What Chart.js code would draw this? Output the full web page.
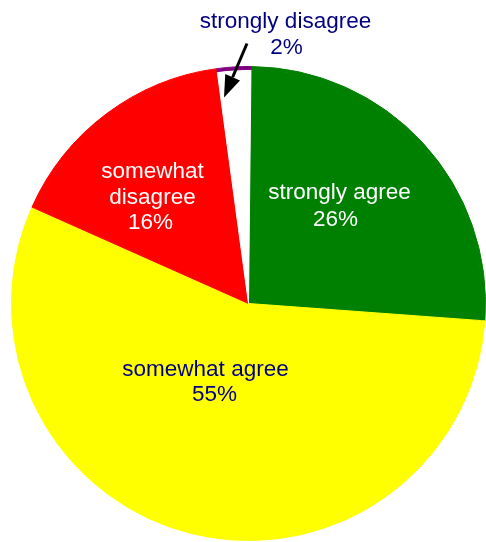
<!DOCTYPE html>
<html>
<head>
<meta charset="utf-8">
<script src="https://cdn.jsdelivr.net/npm/chart.js@4/dist/chart.umd.min.js"></script>
<style>
  html, body { margin: 0; padding: 0; background: #fff; overflow: hidden; }
  #wrap { position: absolute; left: 0; top: 0; width: 486px; height: 542px; }
</style>
</head>
<body>
<div id="wrap"><canvas id="myChart"></canvas></div>
<script>
// answers, clockwise from 12 o'clock
const categories = ["strongly agree", "somewhat agree", "somewhat disagree", "strongly disagree"];
const shares = [26.0, 55.5, 16.2, 2.3];
const shareLabels = ["26%", "55%", "16%", "2%"];
const sliceColors = ["#008000", "#ffff00", "#ff0000", "#ffffff"];
const rimColors = ["#008000", "#ffff00", "#ff0000", "#800080"];

// label text, one line per entry; x/y are offsets from the pie centre (baseline)
const labelLines = [
  { text: "strongly agree", dx: 91, dy: -105, color: "#ffffff" },
  { text: shareLabels[0], dx: 87, dy: -78, color: "#ffffff" },
  { text: "somewhat", dx: -96, dy: -126, color: "#ffffff" },
  { text: "disagree", dx: -96, dy: -100, color: "#ffffff" },
  { text: shareLabels[2], dx: -98, dy: -75, color: "#ffffff" },
  { text: "somewhat agree", dx: -43, dy: 72, color: "#000080" },
  { text: shareLabels[1], dx: -34, dy: 97, color: "#000080" },
  { text: categories[3], dx: 37, dy: -276, color: "#000080" },
  { text: shareLabels[3], dx: 38, dy: -250, color: "#000080" },
];

const labelPlugin = {
  id: "sliceLabels",
  afterDraw(chart) {
    const ctx = chart.ctx;
    const area = chart.chartArea;
    const cx = (area.left + area.right) / 2;
    const cy = (area.top + area.bottom) / 2;
    ctx.save();
    ctx.font = "22.5px 'Liberation Sans', Arial, sans-serif";
    ctx.textAlign = "center";
    ctx.textBaseline = "alphabetic";
    labelLines.forEach((l) => {
      ctx.fillStyle = l.color;
      ctx.fillText(l.text, cx + l.dx, cy + l.dy);
    });

    // arrow pointing at the small white slice
    const x0 = cx - 1.5, y0 = cy - 260;
    const x1 = cx - 24.5, y1 = cy - 206;
    const ang = Math.atan2(y1 - y0, x1 - x0);
    const headLen = 22, headHalf = 8;
    const bx = x1 - headLen * Math.cos(ang);
    const by = y1 - headLen * Math.sin(ang);
    ctx.strokeStyle = "#000";
    ctx.lineWidth = 3;
    ctx.beginPath();
    ctx.moveTo(x0, y0);
    ctx.lineTo(bx, by);
    ctx.stroke();
    ctx.fillStyle = "#000";
    ctx.beginPath();
    ctx.moveTo(x1, y1);
    ctx.lineTo(bx + headHalf * Math.sin(ang), by - headHalf * Math.cos(ang));
    ctx.lineTo(bx - headHalf * Math.sin(ang), by + headHalf * Math.cos(ang));
    ctx.closePath();
    ctx.fill();
    ctx.restore();
  },
};

const config = {
  type: "pie",
  data: {
    labels: categories,
    datasets: [
      {
        // thin outer rim
        data: shares,
        backgroundColor: rimColors,
        borderColor: rimColors,
        borderWidth: 1,
        weight: 3,
      },
      {
        data: shares,
        backgroundColor: sliceColors,
        borderColor: sliceColors,
        borderWidth: 1,
        weight: 234.5,
      },
    ],
  },
  options: {
    responsive: true,
    maintainAspectRatio: false,
    animation: false,
    devicePixelRatio: 1,
    rotation: 0.6,
    events: [],
    layout: {
      padding: { left: 11, right: 0, top: 66, bottom: 1 },
    },
    plugins: {
      legend: { display: false },
      tooltip: { enabled: false },
      title: { display: false },
    },
  },
  plugins: [labelPlugin],
};

const myChart = new Chart(document.getElementById("myChart"), config);
</script>
</body>
</html>
